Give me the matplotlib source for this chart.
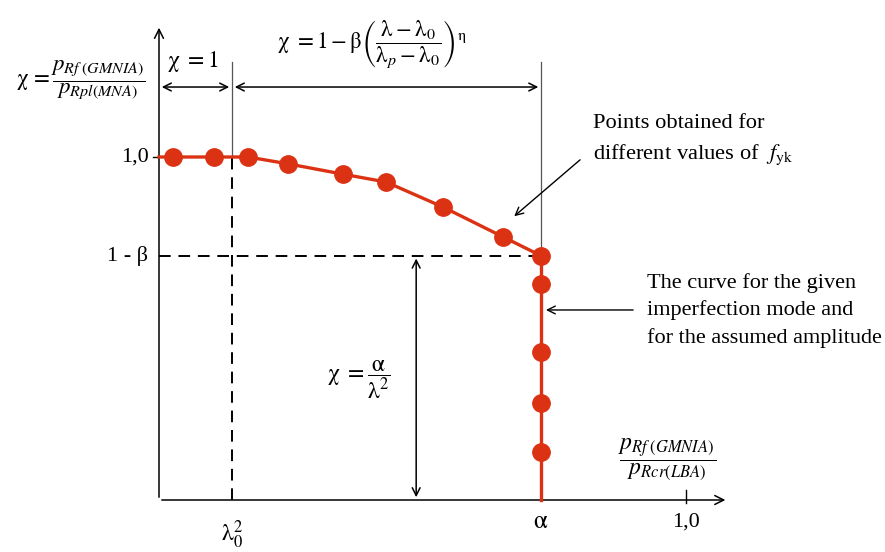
import matplotlib
matplotlib.use("Agg")
import matplotlib.pyplot as plt

plt.rcParams['font.family'] = ['Liberation Serif', 'DejaVu Serif']
plt.rcParams['mathtext.fontset'] = 'stix'

# Values (x: p_Rf/p_Rcr, y: chi)
lam0_sq = 0.1385
alpha = 0.725
one_minus_beta = 0.712

# points on the plastic/elastic-plastic branch
curve_x = [0.027, 0.104, 0.169, 0.245, 0.349, 0.431, 0.539, 0.653, 0.725]
curve_y = [1.0, 1.0, 1.0, 0.98, 0.95, 0.927, 0.854, 0.767, 0.712]
# points on the elastic branch (x = alpha)
elastic_y = [0.63, 0.431, 0.283, 0.14]

red = '#DC3214'

fig = plt.figure(figsize=(8.85, 5.52), dpi=100)
ax = fig.add_axes([0, 0, 1, 1])
ax.set_xlim(-0.3017, 1.3776)
ax.set_ylim(-0.1516, 1.4577)
ax.axis('off')

axis_kw = dict(arrowstyle='->', lw=1.1, color='black', mutation_scale=16)

# axes with arrows
ax.annotate('', xy=(0, 1.385), xytext=(0, 0), arrowprops=axis_kw)
ax.annotate('', xy=(1.08, 0), xytext=(0, 0), arrowprops=axis_kw)

# ticks
ax.plot([-0.012, 0], [1.0, 1.0], color='black', lw=1.0)
ax.plot([1.0, 1.0], [-0.01, 0.03], color='black', lw=1.0)

# thin reference lines
ax.plot([lam0_sq, lam0_sq], [1.0, 1.277], color='#555555', lw=0.9)
ax.plot([alpha, alpha], [one_minus_beta, 1.277], color='#555555', lw=0.9)

# dashed lines
ax.plot([0, alpha], [one_minus_beta, one_minus_beta], color='black', lw=1.4,
        dashes=(6, 4))
ax.plot([lam0_sq, lam0_sq], [0, 1.0], color='black', lw=1.4, dashes=(6, 4))

# dimension arrows at top
dim_kw = dict(arrowstyle='<->', lw=1.1, color='black', mutation_scale=14)
ax.annotate('', xy=(0, 1.204), xytext=(lam0_sq, 1.204), arrowprops=dim_kw)
ax.annotate('', xy=(lam0_sq, 1.204), xytext=(alpha, 1.204), arrowprops=dim_kw)

# vertical dimension chi = alpha / lambda^2
ax.annotate('', xy=(0.488, 0), xytext=(0.488, one_minus_beta), arrowprops=dim_kw)

# the curve
ax.plot([0] + curve_x, [1.0] + curve_y, color=red, lw=2.4, zorder=3)
ax.plot([alpha, alpha], [one_minus_beta, 0], color=red, lw=2.4, zorder=3)
ax.plot(curve_x, curve_y, 'o', color=red, ms=12.5, zorder=4)
ax.plot([alpha] * len(elastic_y), elastic_y, 'o', color=red, ms=12.5, zorder=4)

# text labels
ax.text(-0.148, 1.224, r'$\mathrm{\chi}\, = \dfrac{p_{Rf\;(GMNIA)}}{p_{Rpl(MNA)}}$',
        fontsize=16.5, ha='center', va='center')
ax.text(0.0645, 1.277, r'$\mathrm{\chi}\ =1$', fontsize=17, ha='center', va='center')
ax.text(0.404, 1.33,
        r'$\mathrm{\chi}\ =1-\mathrm{\beta}\left(\dfrac{\mathrm{\lambda}-\mathrm{\lambda}_0}'
        r'{\mathrm{\lambda}_p-\mathrm{\lambda}_0}\right)^{\mathrm{\eta}}$',
        fontsize=16.5, ha='center', va='center')
ax.text(-0.02, 1.0, '1,0', fontsize=16, ha='right', va='center')
ax.text(-0.02, one_minus_beta, '1 - β', fontsize=16, ha='right', va='center')
ax.text(0.38, 0.35, r'$\mathrm{\chi}\ =\dfrac{\mathrm{\alpha}}{\mathrm{\lambda}^2}$',
        fontsize=17, ha='center', va='center')
ax.text(0.964, 0.117, r'$\dfrac{p_{Rf\;(GMNIA)}}{p_{Rcr(LBA)}}$',
        fontsize=17, ha='center', va='center')

ax.text(lam0_sq, -0.102, r'$\mathrm{\lambda}_0^2$', fontsize=17, ha='center', va='center')
ax.text(alpha, -0.064, r'$\mathrm{\alpha}$', fontsize=18, ha='center', va='center')
ax.text(1.0, -0.064, '1,0', fontsize=16, ha='center', va='center')

# annotations on the right
ax.text(0.8235, 1.099, 'Points obtained for', fontsize=16.2, ha='left', va='center')
ax.text(0.8235, 1.006, r'different values of  $f_{\mathrm{yk}}$', fontsize=16.2,
        ha='left', va='center')
ax.annotate('', xy=(0.670, 0.822), xytext=(0.803, 0.997),
            arrowprops=dict(arrowstyle='->', lw=1.0, color='black', mutation_scale=14))

ax.text(0.926, 0.633, 'The curve for the given', fontsize=16, ha='left', va='center')
ax.text(0.926, 0.554, 'imperfection mode and', fontsize=16, ha='left', va='center')
ax.text(0.926, 0.472, 'for the assumed amplitude', fontsize=16, ha='left', va='center')
ax.annotate('', xy=(0.729, 0.554), xytext=(0.905, 0.554),
            arrowprops=dict(arrowstyle='->', lw=1.0, color='black', mutation_scale=14))

fig.savefig('out.png', dpi=100)
